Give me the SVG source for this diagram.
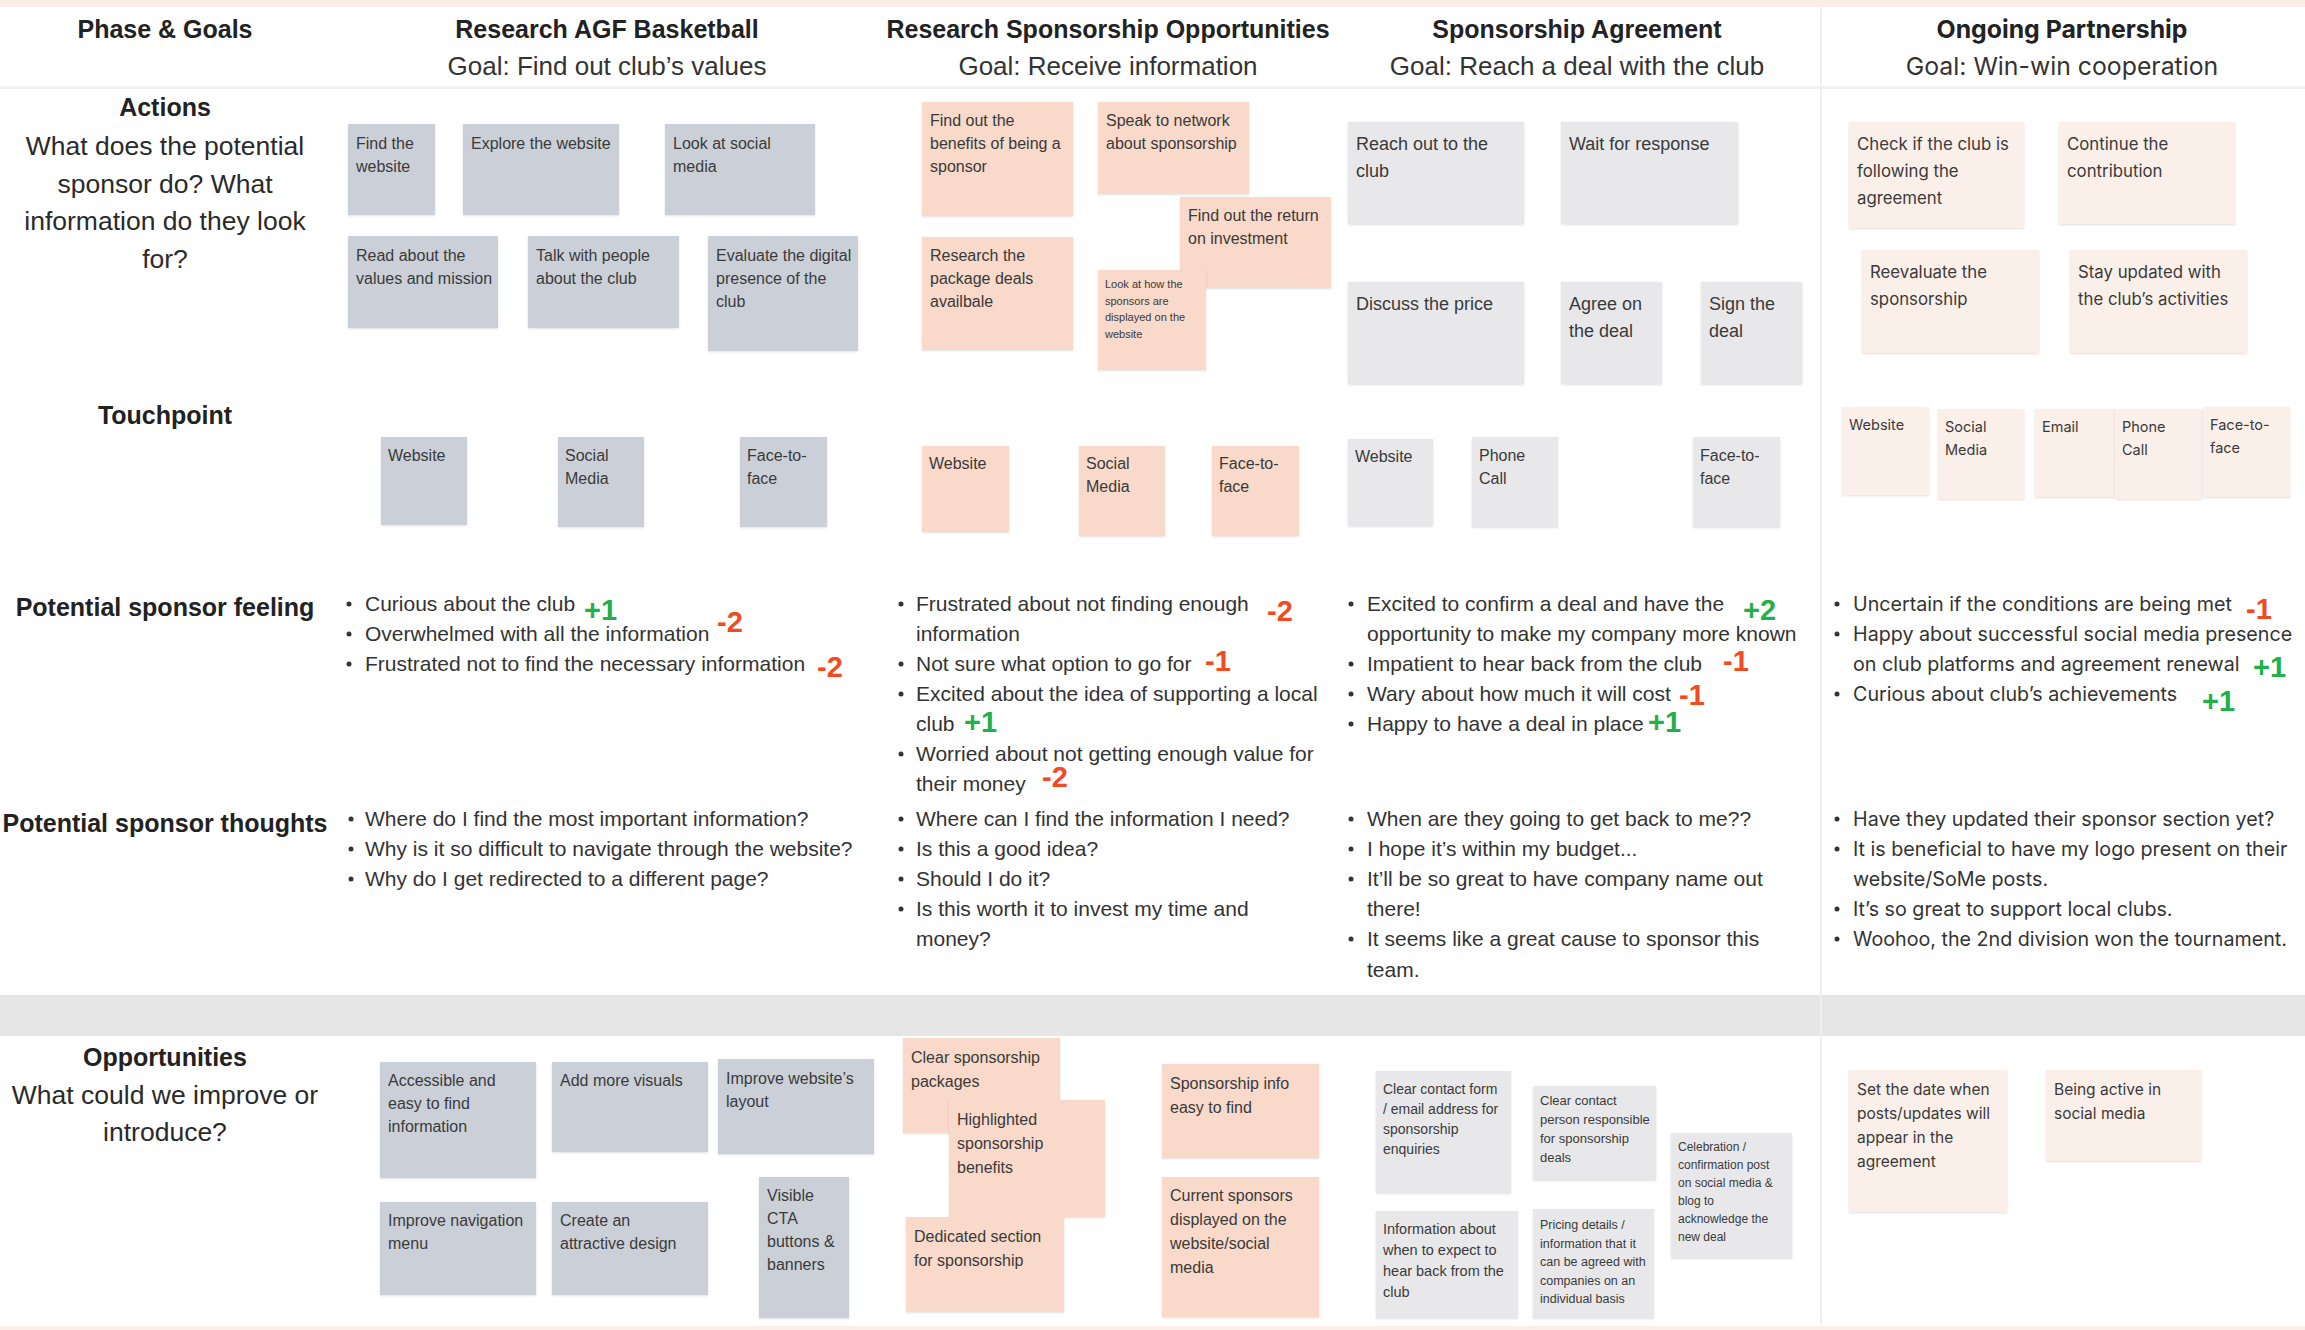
<svg xmlns="http://www.w3.org/2000/svg" width="2305" height="1330" viewBox="0 0 2305 1330">
<defs>
<filter id="sh" x="-10%" y="-10%" width="120%" height="130%"><feDropShadow dx="0" dy="1" stdDeviation="1" flood-color="#000" flood-opacity="0.12"/></filter>
<style>
text{font-family:"Liberation Sans",Arial,sans-serif;fill:#333}
.i{font-family:Inter,"Liberation Sans",sans-serif}
.h{font-weight:bold;font-size:25px;fill:#222;text-anchor:middle}
.g{font-size:26px;text-anchor:middle}
.lab{font-weight:bold;font-size:25px;fill:#222;text-anchor:middle}
.q{font-size:26.5px;text-anchor:middle;fill:#2a2a2a}
.li{font-size:21px}
.li4{font-size:19.7px}
.t16{font-size:16px;fill:#3a3a3a}
.t18{font-size:18px;fill:#3a3a3a}
.t11{font-size:11px;fill:#3a3a3a}
.t14{font-size:14px;fill:#3a3a3a}
.t13{font-size:13px;fill:#3a3a3a}
.t12{font-size:12.5px;fill:#3a3a3a}
.ti17{font-size:16.8px;fill:#3a3a3a}
.ti15{font-size:14.5px;fill:#3a3a3a}
.ti16{font-size:15.5px;fill:#3a3a3a}
.c1{fill:#cbd0d8;filter:url(#sh)}
.c2{fill:#f8d9ca;filter:url(#sh)}
.c3{fill:#e8e8ea;filter:url(#sh)}
.c4{fill:#fbefea;filter:url(#sh)}
.sp{font-weight:bold;font-size:29px}
.pos{fill:#22b04b}
.neg{fill:#f24a23}
.b{fill:#333}
</style>
</defs>
<rect x="0" y="0" width="2305" height="1330" fill="#ffffff"/>
<rect x="0" y="0" width="2305" height="7" fill="#fbeee8"/>
<rect x="0" y="1326" width="2305" height="4" fill="#fbeee8"/>
<rect x="0" y="86" width="2305" height="3" fill="#f1f1f1"/>
<rect x="0" y="995" width="2305" height="41" fill="#e6e6e6"/>
<rect x="1820" y="7" width="2" height="1319" fill="#efefef"/>

<g id="header">
<text class="lab" x="165" y="38">Phase &amp; Goals</text>
<text class="h" x="607" y="38">Research AGF Basketball</text>
<text class="g" x="607" y="75">Goal: Find out club’s values</text>
<text class="h" x="1108" y="38">Research Sponsorship Opportunities</text>
<text class="g" x="1108" y="75">Goal: Receive information</text>
<text class="h" x="1577" y="38">Sponsorship Agreement</text>
<text class="g" x="1577" y="75">Goal: Reach a deal with the club</text>
<text class="h i" x="2062" y="38" style="font-size:24.8px">Ongoing Partnership</text>
<text class="g i" x="2062" y="75" style="font-size:24.8px">Goal: Win-win cooperation</text>
</g>

<g id="row-labels">
<text class="lab" x="165" y="116">Actions</text>
<text class="q" x="165" y="155">What does the potential</text>
<text class="q" x="165" y="192.5">sponsor do? What</text>
<text class="q" x="165" y="230">information do they look</text>
<text class="q" x="165" y="267.5">for?</text>
<text class="lab" x="165" y="423.5">Touchpoint</text>
<text class="lab" x="165" y="616">Potential sponsor feeling</text>
<text class="lab" x="165" y="832">Potential sponsor thoughts</text>
<text class="lab" x="165" y="1066">Opportunities</text>
<text class="q" x="165" y="1104">What could we improve or</text>
<text class="q" x="165" y="1141">introduce?</text>
</g>

<!-- Actions column 1 -->
<g id="a1"><rect class="c1" x="348" y="124" width="87" height="91"/><text class="t16" x="356" y="149">Find the<tspan x="356" dy="23">website</tspan></text></g>
<g id="a2"><rect class="c1" x="463" y="124" width="156" height="91"/><text class="t16" x="471" y="149">Explore the website</text></g>
<g id="a3"><rect class="c1" x="665" y="124" width="150" height="91"/><text class="t16" x="673" y="149">Look at social<tspan x="673" dy="23">media</tspan></text></g>
<g id="a4"><rect class="c1" x="348" y="236" width="150" height="92"/><text class="t16" x="356" y="261">Read about the<tspan x="356" dy="23">values and mission</tspan></text></g>
<g id="a5"><rect class="c1" x="528" y="236" width="151" height="92"/><text class="t16" x="536" y="261">Talk with people<tspan x="536" dy="23">about the club</tspan></text></g>
<g id="a6"><rect class="c1" x="708" y="236" width="150" height="115"/><text class="t16" x="716" y="261">Evaluate the digital<tspan x="716" dy="23">presence of the</tspan><tspan x="716" dy="23">club</tspan></text></g>

<!-- Actions column 2 -->
<g id="b1"><rect class="c2" x="922" y="102" width="151" height="114"/><text class="t16" x="930" y="126">Find out the<tspan x="930" dy="23">benefits of being a</tspan><tspan x="930" dy="23">sponsor</tspan></text></g>
<g id="b2"><rect class="c2" x="1098" y="102" width="151" height="92"/><text class="t16" x="1106" y="126">Speak to network<tspan x="1106" dy="23">about sponsorship</tspan></text></g>
<g id="b3"><rect class="c2" x="1180" y="197" width="151" height="91"/><text class="t16" x="1188" y="221">Find out the return<tspan x="1188" dy="23">on investment</tspan></text></g>
<g id="b4"><rect class="c2" x="922" y="237" width="151" height="113"/><text class="t16" x="930" y="261">Research the<tspan x="930" dy="23">package deals</tspan><tspan x="930" dy="23">availbale</tspan></text></g>
<g id="b5"><rect class="c2" x="1098" y="270" width="108" height="100"/><text class="t11" x="1105" y="288">Look at how the<tspan x="1105" dy="16.5">sponsors are</tspan><tspan x="1105" dy="16.5">displayed on the</tspan><tspan x="1105" dy="16.5">website</tspan></text></g>

<!-- Actions column 3 -->
<g id="c1"><rect class="c3" x="1348" y="122" width="176" height="102"/><text class="t18" x="1356" y="150">Reach out to the<tspan x="1356" dy="27">club</tspan></text></g>
<g id="c2"><rect class="c3" x="1561" y="122" width="177" height="102"/><text class="t18" x="1569" y="150">Wait for response</text></g>
<g id="c3"><rect class="c3" x="1348" y="282" width="176" height="102"/><text class="t18" x="1356" y="310">Discuss the price</text></g>
<g id="c4"><rect class="c3" x="1561" y="282" width="101" height="102"/><text class="t18" x="1569" y="310">Agree on<tspan x="1569" dy="27">the deal</tspan></text></g>
<g id="c5"><rect class="c3" x="1701" y="282" width="101" height="102"/><text class="t18" x="1709" y="310">Sign the<tspan x="1709" dy="27">deal</tspan></text></g>

<!-- Actions column 4 -->
<g id="d1"><rect class="c4" x="1849" y="122" width="175" height="106"/><text class="ti17 i" x="1857" y="150">Check if the club is<tspan x="1857" dy="27">following the</tspan><tspan x="1857" dy="27">agreement</tspan></text></g>
<g id="d2"><rect class="c4" x="2059" y="122" width="176" height="102"/><text class="ti17 i" x="2067" y="150">Continue the<tspan x="2067" dy="27">contribution</tspan></text></g>
<g id="d3"><rect class="c4" x="1862" y="250" width="177" height="103"/><text class="ti17 i" x="1870" y="278">Reevaluate the<tspan x="1870" dy="27">sponsorship</tspan></text></g>
<g id="d4"><rect class="c4" x="2070" y="250" width="177" height="103"/><text class="ti17 i" x="2078" y="278">Stay updated with<tspan x="2078" dy="27">the club’s activities</tspan></text></g>

<!-- Touchpoints -->
<g id="tp1-1"><rect class="c1" x="381" y="437" width="86" height="88"/><text class="t16" x="388" y="461">Website</text></g>
<g id="tp1-2"><rect class="c1" x="558" y="437" width="86" height="90"/><text class="t16" x="565" y="461">Social<tspan x="565" dy="23">Media</tspan></text></g>
<g id="tp1-3"><rect class="c1" x="740" y="437" width="87" height="90"/><text class="t16" x="747" y="461">Face-to-<tspan x="747" dy="23">face</tspan></text></g>
<g id="tp2-1"><rect class="c2" x="922" y="446" width="87" height="86"/><text class="t16" x="929" y="469">Website</text></g>
<g id="tp2-2"><rect class="c2" x="1079" y="446" width="86" height="90"/><text class="t16" x="1086" y="469">Social<tspan x="1086" dy="23">Media</tspan></text></g>
<g id="tp2-3"><rect class="c2" x="1212" y="446" width="87" height="90"/><text class="t16" x="1219" y="469">Face-to-<tspan x="1219" dy="23">face</tspan></text></g>
<g id="tp3-1"><rect class="c3" x="1348" y="439" width="85" height="87"/><text class="t16" x="1355" y="462">Website</text></g>
<g id="tp3-2"><rect class="c3" x="1472" y="437" width="86" height="90"/><text class="t16" x="1479" y="461">Phone<tspan x="1479" dy="23">Call</tspan></text></g>
<g id="tp3-3"><rect class="c3" x="1693" y="437" width="87" height="90"/><text class="t16" x="1700" y="461">Face-to-<tspan x="1700" dy="23">face</tspan></text></g>
<g id="tp4-1"><rect class="c4" x="1842" y="407" width="87" height="88"/><text class="ti15 i" x="1849" y="430">Website</text></g>
<g id="tp4-2"><rect class="c4" x="1938" y="409" width="86" height="90"/><text class="ti15 i" x="1945" y="432">Social<tspan x="1945" dy="23">Media</tspan></text></g>
<g id="tp4-3"><rect class="c4" x="2035" y="409" width="80" height="88"/><text class="ti15 i" x="2042" y="432">Email</text></g>
<g id="tp4-4"><rect class="c4" x="2115" y="409" width="87" height="90"/><text class="ti15 i" x="2122" y="432">Phone<tspan x="2122" dy="23">Call</tspan></text></g>
<g id="tp4-5"><rect class="c4" x="2203" y="407" width="87" height="90"/><text class="ti15 i" x="2210" y="430">Face-to-<tspan x="2210" dy="23">face</tspan></text></g>

<!-- Feelings -->
<g id="feel-1">
<circle class="b" cx="349" cy="604" r="2.5"/><text class="li" x="365" y="611">Curious about the club</text>
<circle class="b" cx="349" cy="634" r="2.5"/><text class="li" x="365" y="641">Overwhelmed with all the information</text>
<circle class="b" cx="349" cy="664" r="2.5"/><text class="li" x="365" y="671">Frustrated not to find the necessary information</text>
<text class="sp pos" x="584" y="620">+1</text>
<text class="sp neg" x="717" y="632">-2</text>
<text class="sp neg" x="817" y="677">-2</text>
</g>
<g id="feel-2">
<circle class="b" cx="901" cy="604" r="2.5"/><text class="li" x="916" y="611">Frustrated about not finding enough</text>
<text class="li" x="916" y="641">information</text>
<circle class="b" cx="901" cy="664" r="2.5"/><text class="li" x="916" y="671">Not sure what option to go for</text>
<circle class="b" cx="901" cy="694" r="2.5"/><text class="li" x="916" y="701">Excited about the idea of supporting a local</text>
<text class="li" x="916" y="731">club</text>
<circle class="b" cx="901" cy="754" r="2.5"/><text class="li" x="916" y="761">Worried about not getting enough value for</text>
<text class="li" x="916" y="791">their money</text>
<text class="sp neg" x="1267" y="621">-2</text>
<text class="sp neg" x="1205" y="671">-1</text>
<text class="sp pos" x="964" y="732">+1</text>
<text class="sp neg" x="1042" y="787">-2</text>
</g>
<g id="feel-3">
<circle class="b" cx="1351" cy="604" r="2.5"/><text class="li" x="1367" y="611">Excited to confirm a deal and have the</text>
<text class="li" x="1367" y="641">opportunity to make my company more known</text>
<circle class="b" cx="1351" cy="664" r="2.5"/><text class="li" x="1367" y="671">Impatient to hear back from the club</text>
<circle class="b" cx="1351" cy="694" r="2.5"/><text class="li" x="1367" y="701">Wary about how much it will cost</text>
<circle class="b" cx="1351" cy="724" r="2.5"/><text class="li" x="1367" y="731">Happy to have a deal in place</text>
<text class="sp pos" x="1743" y="620">+2</text>
<text class="sp neg" x="1723" y="671">-1</text>
<text class="sp neg" x="1679" y="705">-1</text>
<text class="sp pos" x="1648" y="732">+1</text>
</g>
<g id="feel-4">
<circle class="b" cx="1837" cy="604" r="2.5"/><text class="li4 i" x="1853" y="611">Uncertain if the conditions are being met</text>
<circle class="b" cx="1837" cy="634" r="2.5"/><text class="li4 i" x="1853" y="641">Happy about successful social media presence</text>
<text class="li4 i" x="1853" y="671">on club platforms and agreement renewal</text>
<circle class="b" cx="1837" cy="694" r="2.5"/><text class="li4 i" x="1853" y="701">Curious about club’s achievements</text>
<text class="sp neg" x="2246" y="619">-1</text>
<text class="sp pos" x="2253" y="677">+1</text>
<text class="sp pos" x="2202" y="711">+1</text>
</g>

<!-- Thoughts -->
<g id="thoughts-1">
<circle class="b" cx="351" cy="819" r="2.5"/><text class="li" x="365" y="826">Where do I find the most important information?</text>
<circle class="b" cx="351" cy="849" r="2.5"/><text class="li" x="365" y="856">Why is it so difficult to navigate through the website?</text>
<circle class="b" cx="351" cy="879" r="2.5"/><text class="li" x="365" y="886">Why do I get redirected to a different page?</text>
</g>
<g id="thoughts-2">
<circle class="b" cx="901" cy="819" r="2.5"/><text class="li" x="916" y="826">Where can I find the information I need?</text>
<circle class="b" cx="901" cy="849" r="2.5"/><text class="li" x="916" y="856">Is this a good idea?</text>
<circle class="b" cx="901" cy="879" r="2.5"/><text class="li" x="916" y="886">Should I do it?</text>
<circle class="b" cx="901" cy="909" r="2.5"/><text class="li" x="916" y="916">Is this worth it to invest my time and</text>
<text class="li" x="916" y="946">money?</text>
</g>
<g id="thoughts-3">
<circle class="b" cx="1351" cy="819" r="2.5"/><text class="li" x="1367" y="826">When are they going to get back to me??</text>
<circle class="b" cx="1351" cy="849" r="2.5"/><text class="li" x="1367" y="856">I hope it’s within my budget...</text>
<circle class="b" cx="1351" cy="879" r="2.5"/><text class="li" x="1367" y="886">It’ll be so great to have company name out</text>
<text class="li" x="1367" y="916">there!</text>
<circle class="b" cx="1351" cy="939" r="2.5"/><text class="li" x="1367" y="946">It seems like a great cause to sponsor this</text>
<text class="li" x="1367" y="977">team.</text>
</g>
<g id="thoughts-4">
<circle class="b" cx="1837" cy="819" r="2.5"/><text class="li4 i" x="1853" y="826">Have they updated their sponsor section yet?</text>
<circle class="b" cx="1837" cy="849" r="2.5"/><text class="li4 i" x="1853" y="856">It is beneficial to have my logo present on their</text>
<text class="li4 i" x="1853" y="886">website/SoMe posts.</text>
<circle class="b" cx="1837" cy="909" r="2.5"/><text class="li4 i" x="1853" y="916">It’s so great to support local clubs.</text>
<circle class="b" cx="1837" cy="939" r="2.5"/><text class="li4 i" x="1853" y="946">Woohoo, the 2nd division won the tournament.</text>
</g>

<!-- Opportunities column 1 -->
<g id="o1"><rect class="c1" x="380" y="1062" width="156" height="116"/><text class="t16" x="388" y="1086">Accessible and<tspan x="388" dy="23">easy to find</tspan><tspan x="388" dy="23">information</tspan></text></g>
<g id="o2"><rect class="c1" x="552" y="1062" width="156" height="90"/><text class="t16" x="560" y="1086">Add more visuals</text></g>
<g id="o3"><rect class="c1" x="718" y="1059" width="156" height="95"/><text class="t16" x="726" y="1084">Improve website’s<tspan x="726" dy="23">layout</tspan></text></g>
<g id="o4"><rect class="c1" x="380" y="1202" width="156" height="93"/><text class="t16" x="388" y="1226">Improve navigation<tspan x="388" dy="23">menu</tspan></text></g>
<g id="o5"><rect class="c1" x="552" y="1202" width="156" height="93"/><text class="t16" x="560" y="1226">Create an<tspan x="560" dy="23">attractive design</tspan></text></g>
<g id="o6"><rect class="c1" x="759" y="1177" width="90" height="141"/><text class="t16" x="767" y="1201">Visible<tspan x="767" dy="23">CTA</tspan><tspan x="767" dy="23">buttons &amp;</tspan><tspan x="767" dy="23">banners</tspan></text></g>

<!-- Opportunities column 2 -->
<g id="p1"><rect class="c2" x="903" y="1038" width="157" height="95"/><text class="t16" x="911" y="1063">Clear sponsorship<tspan x="911" dy="24">packages</tspan></text></g>
<g id="p2"><rect class="c2" x="949" y="1100" width="156" height="117"/><text class="t16" x="957" y="1125">Highlighted<tspan x="957" dy="24">sponsorship</tspan><tspan x="957" dy="24">benefits</tspan></text></g>
<g id="p3"><rect class="c2" x="906" y="1217" width="158" height="95"/><text class="t16" x="914" y="1242">Dedicated section<tspan x="914" dy="24">for sponsorship</tspan></text></g>
<g id="p4"><rect class="c2" x="1162" y="1064" width="157" height="94"/><text class="t16" x="1170" y="1089">Sponsorship info<tspan x="1170" dy="24">easy to find</tspan></text></g>
<g id="p5"><rect class="c2" x="1162" y="1177" width="157" height="140"/><text class="t16" x="1170" y="1201">Current sponsors<tspan x="1170" dy="24">displayed on the</tspan><tspan x="1170" dy="24">website/social</tspan><tspan x="1170" dy="24">media</tspan></text></g>

<!-- Opportunities column 3 -->
<g id="q1"><rect class="c3" x="1376" y="1071" width="135" height="122"/><text class="t14" x="1383" y="1094">Clear contact form<tspan x="1383" dy="20">/ email address for</tspan><tspan x="1383" dy="20">sponsorship</tspan><tspan x="1383" dy="20">enquiries</tspan></text></g>
<g id="q2"><rect class="c3" x="1533" y="1086" width="123" height="94"/><text class="t13" x="1540" y="1105">Clear contact<tspan x="1540" dy="19">person responsible</tspan><tspan x="1540" dy="19">for sponsorship</tspan><tspan x="1540" dy="19">deals</tspan></text></g>
<g id="q3"><rect class="c3" x="1376" y="1211" width="142" height="107"/><text class="t14" x="1383" y="1234" style="font-size:14.5px">Information about<tspan x="1383" dy="21">when to expect to</tspan><tspan x="1383" dy="21">hear back from the</tspan><tspan x="1383" dy="21">club</tspan></text></g>
<g id="q4"><rect class="c3" x="1533" y="1209" width="121" height="109"/><text class="t12" x="1540" y="1229">Pricing details /<tspan x="1540" dy="18.5">information that it</tspan><tspan x="1540" dy="18.5">can be agreed with</tspan><tspan x="1540" dy="18.5">companies on an</tspan><tspan x="1540" dy="18.5">individual basis</tspan></text></g>
<g id="q5"><rect class="c3" x="1671" y="1133" width="121" height="125"/><text class="t12" x="1678" y="1151" style="font-size:12px">Celebration /<tspan x="1678" dy="18">confirmation post</tspan><tspan x="1678" dy="18">on social media &amp;</tspan><tspan x="1678" dy="18">blog to</tspan><tspan x="1678" dy="18">acknowledge the</tspan><tspan x="1678" dy="18">new deal</tspan></text></g>

<!-- Opportunities column 4 -->
<g id="r1"><rect class="c4" x="1849" y="1070" width="158" height="142"/><text class="ti16 i" x="1857" y="1095">Set the date when<tspan x="1857" dy="24">posts/updates will</tspan><tspan x="1857" dy="24">appear in the</tspan><tspan x="1857" dy="24">agreement</tspan></text></g>
<g id="r2"><rect class="c4" x="2046" y="1070" width="155" height="91"/><text class="ti16 i" x="2054" y="1095">Being active in<tspan x="2054" dy="24">social media</tspan></text></g>

<g id="connectors"></g>
</svg>
